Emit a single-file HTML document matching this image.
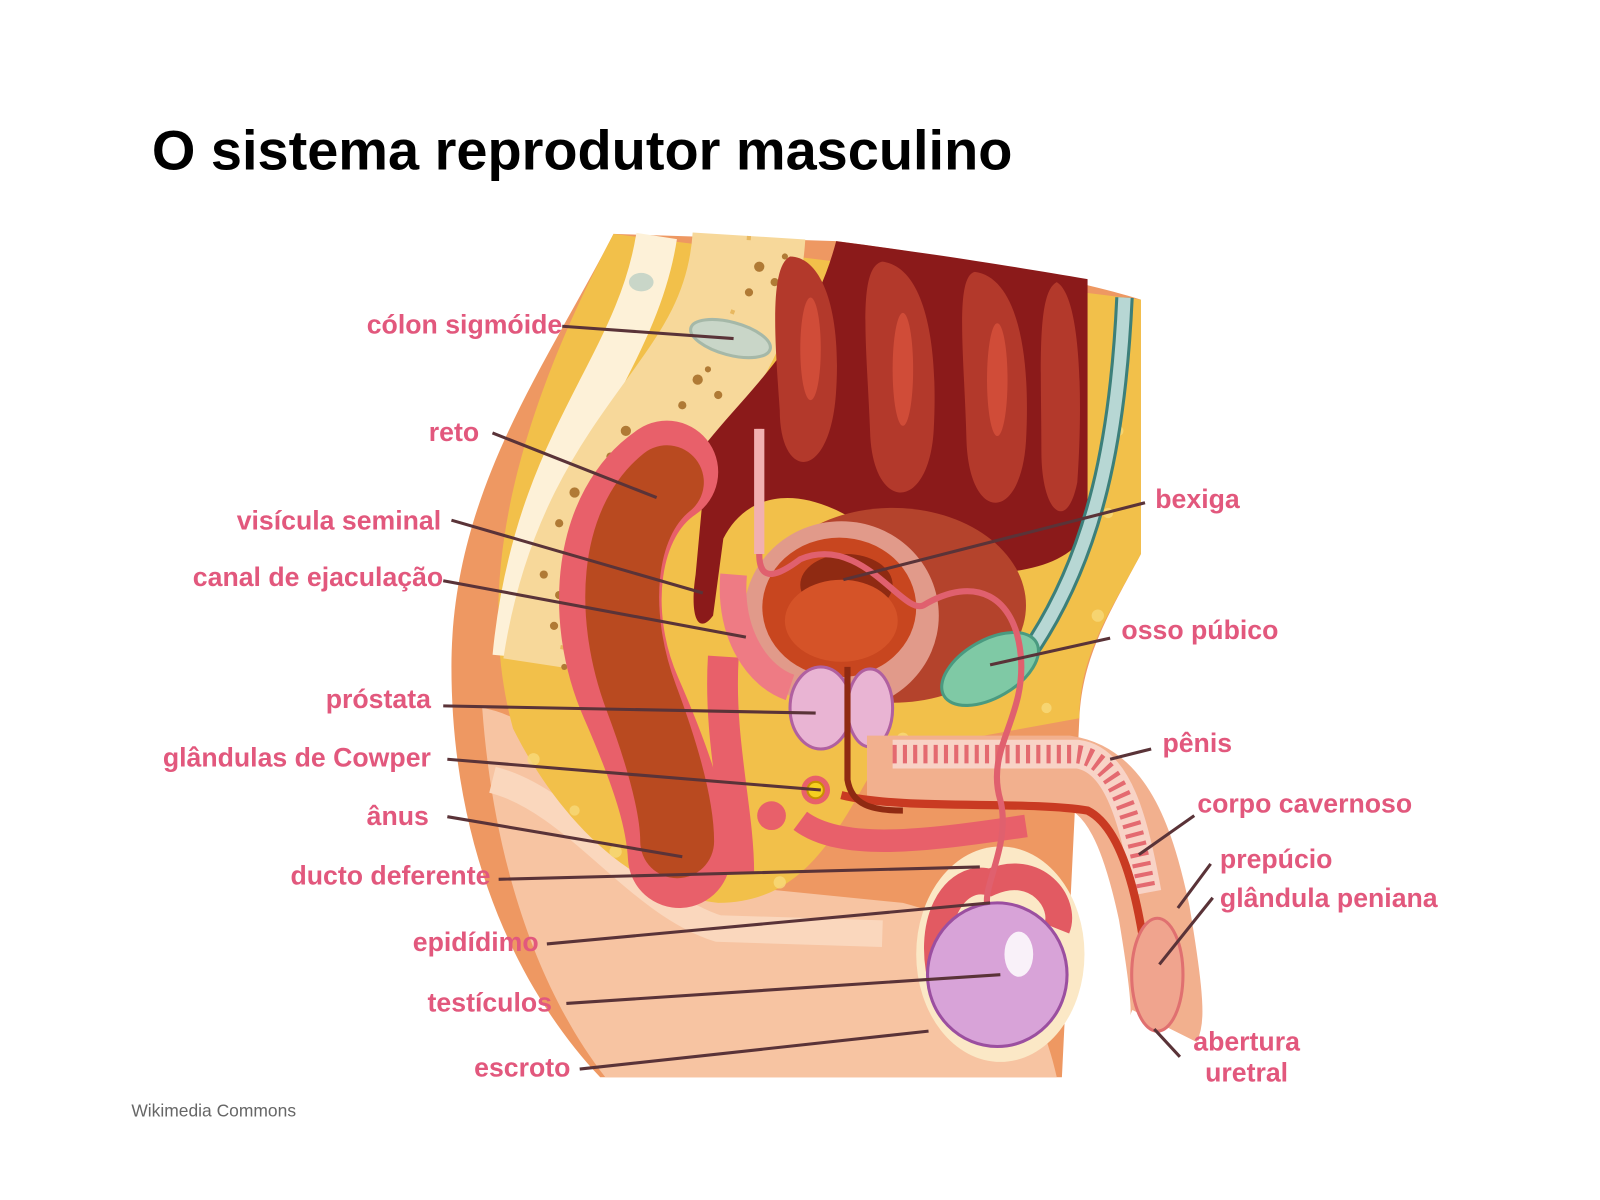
<!DOCTYPE html>
<html><head><meta charset="utf-8"><style>
html,body{margin:0;padding:0;background:#fff}
svg{display:block}
.l{font-family:"Liberation Sans",sans-serif;font-weight:bold;font-size:26px;fill:#e2587d}
.k{stroke:#5a3338;stroke-width:3;fill:none}
</style></head><body>
<svg width="1600" height="1200" viewBox="0 0 1600 1200" xmlns="http://www.w3.org/2000/svg">
<g transform="scale(1.026)">
<text x="148" y="165" font-family="Liberation Sans,sans-serif" font-weight="bold" font-size="54.5" fill="#000">O sistema reprodutor masculino</text>
<text x="128" y="1088" font-family="Liberation Sans,sans-serif" font-size="17" fill="#666">Wikimedia Commons</text>

<path d="M598,228 L815,235 C930,250 1040,270 1112,292 L1112,540 C1080,600 1055,640 1052,700 L1035,1050 L585,1050 C500,960 440,820 440,650 C440,480 530,360 598,228 Z" fill="#ee9862"/>
<path d="M470,690 C540,700 600,800 680,860 L880,880 C960,900 1010,960 1030,1050 L590,1050 C520,960 480,830 470,690 Z" fill="#f7c4a2"/>
<path d="M480,760 C560,780 620,880 700,905 L860,910" stroke="#fad7bd" stroke-width="26" fill="none"/>
<path d="M598,228 L1112,292 L1112,540 C1080,600 1052,640 1052,700 L860,735 C820,800 790,880 700,880 C610,870 540,790 500,710 C470,600 480,450 598,228 Z" fill="#f2c04a"/>
<g fill="#f8d97a" opacity="0.8">
<circle cx="520" cy="740" r="6"/><circle cx="560" cy="790" r="5"/><circle cx="600" cy="830" r="6"/><circle cx="690" cy="850" r="5"/><circle cx="760" cy="860" r="6"/><circle cx="880" cy="720" r="6"/><circle cx="1020" cy="690" r="5"/><circle cx="1080" cy="500" r="5"/><circle cx="1090" cy="420" r="5"/><circle cx="1070" cy="600" r="6"/><circle cx="760" cy="300" r="5"/><circle cx="790" cy="350" r="6"/></g>
<path d="M640,230 C620,360 520,430 500,640" stroke="#fdf1d8" stroke-width="40" fill="none"/>
<path d="M730,230 C720,390 580,420 545,650" stroke="#f7d89a" stroke-width="110" fill="none"/>
<path d="M730,230 C720,390 580,420 545,650" stroke="#e8b860" stroke-width="4" stroke-dasharray="4 70" fill="none"/>
<ellipse cx="712" cy="330" rx="40" ry="16" transform="rotate(15 712 330)" fill="#c9d6c8" stroke="#a5b8a8" stroke-width="3"/>
<ellipse cx="625" cy="275" rx="12" ry="9" fill="#c9d6c8"/>
<g fill="#b07a35">
<circle cx="740" cy="260" r="5"/><circle cx="755" cy="275" r="4"/><circle cx="730" cy="285" r="4"/><circle cx="765" cy="250" r="3"/>
<circle cx="680" cy="370" r="5"/><circle cx="700" cy="385" r="4"/><circle cx="665" cy="395" r="4"/><circle cx="690" cy="360" r="3"/>
<circle cx="610" cy="420" r="5"/><circle cx="625" cy="440" r="4"/><circle cx="595" cy="445" r="4"/>
<circle cx="560" cy="480" r="5"/><circle cx="575" cy="500" r="4"/><circle cx="545" cy="510" r="4"/>
<circle cx="530" cy="560" r="4"/><circle cx="545" cy="580" r="4"/><circle cx="540" cy="610" r="4"/><circle cx="550" cy="650" r="3"/></g>
<path d="M815,235 C930,250 1000,262 1060,272 L1060,520 C1030,560 980,560 900,560 L830,505 C770,470 725,485 705,525 L695,600 C680,620 672,600 678,560 L690,430 C730,380 790,330 815,235 Z" fill="#8b1a1a"/>
<g fill="#b3392b">
<path d="M770,250 C800,250 820,300 815,380 C810,470 760,470 760,400 C755,330 750,260 770,250 Z"/>
<path d="M860,255 C900,260 915,330 910,420 C905,500 850,500 848,420 C845,340 835,260 860,255 Z"/>
<path d="M950,265 C990,270 1005,340 1000,430 C995,510 945,510 942,430 C940,350 930,270 950,265 Z"/>
<path d="M1030,275 C1055,290 1055,400 1050,470 C1040,520 1015,500 1015,440 C1015,360 1010,285 1030,275 Z"/></g>
<g fill="#d04c38"><ellipse cx="790" cy="340" rx="10" ry="50"/><ellipse cx="880" cy="360" rx="10" ry="55"/><ellipse cx="972" cy="370" rx="10" ry="55"/></g>
<path d="M1096,290 C1090,420 1070,540 1000,640" stroke="#3c7f7a" stroke-width="18" fill="none"/>
<path d="M1096,290 C1090,420 1070,540 1000,640" stroke="#b7d7d4" stroke-width="12" fill="none"/>
<ellipse cx="870" cy="590" rx="130" ry="95" fill="#b4432c"/>
<ellipse cx="820" cy="600" rx="95" ry="92" fill="#e19a8a"/>
<ellipse cx="818" cy="592" rx="75" ry="68" fill="#c8461f"/>
<ellipse cx="825" cy="570" rx="45" ry="30" fill="#8f2a12"/>
<ellipse cx="820" cy="605" rx="55" ry="40" fill="#d55328"/>
<ellipse cx="965" cy="652" rx="52" ry="28" transform="rotate(-30 965 652)" fill="#7fc9a5" stroke="#4a9a80" stroke-width="3"/>
<path d="M650,460 C590,500 580,600 615,680 C650,760 660,800 662,835" stroke="#e8606a" stroke-width="100" fill="none" stroke-linecap="round"/>
<path d="M650,470 C600,510 595,600 625,680 C655,760 660,800 660,820" stroke="#b94a20" stroke-width="72" fill="none" stroke-linecap="round"/>
<path d="M705,640 C700,720 720,790 720,850" stroke="#e8606a" stroke-width="30" fill="none"/>
<path d="M715,560 C710,620 740,660 770,670" stroke="#ee7b84" stroke-width="26" fill="none"/>
<ellipse cx="800" cy="690" rx="30" ry="40" fill="#e9b4d3" stroke="#b060a0" stroke-width="3"/>
<ellipse cx="848" cy="690" rx="22" ry="38" fill="#e9b4d3" stroke="#b060a0" stroke-width="3"/>
<path d="M845,752 L1040,752 C1090,760 1110,820 1125,890 C1135,950 1140,990 1135,1000" stroke="#f2b08e" stroke-width="70" fill="none"/>
<path d="M870,735 L1050,735 C1090,740 1105,800 1118,870" stroke="#f8d3c6" stroke-width="28" fill="none"/>
<path d="M870,735 L1050,735 C1090,740 1105,800 1118,870" stroke="#e46a70" stroke-width="18" stroke-dasharray="4 6" fill="none"/>
<path d="M820,775 C880,790 1000,780 1060,790 C1100,810 1115,900 1125,1000" stroke="#c93a22" stroke-width="8" fill="none"/>
<path d="M780,800 C820,830 900,820 1000,805" stroke="#e8606a" stroke-width="22" fill="none"/>
<ellipse cx="1128" cy="950" rx="25" ry="55" fill="#f0a48e" stroke="#e07070" stroke-width="3"/>
<path d="M826,650 L826,760 C830,785 850,790 880,790" stroke="#8f2a12" stroke-width="6" fill="none"/>
<circle cx="795" cy="770" r="14" fill="#e8606a"/>
<circle cx="795" cy="770" r="8" fill="#f5d020" stroke="#c89000" stroke-width="2"/>
<circle cx="752" cy="795" r="14" fill="#e8606a"/>
<ellipse cx="975" cy="930" rx="82" ry="105" fill="#fbe8c6"/>
<path d="M920,965 C900,900 930,850 965,860 C1010,840 1040,880 1030,905" stroke="#e25a62" stroke-width="26" fill="none"/>
<ellipse cx="972" cy="950" rx="68" ry="70" fill="#d8a3d8" stroke="#9b4fa0" stroke-width="3"/>
<ellipse cx="993" cy="930" rx="14" ry="22" fill="#fff" opacity="0.85"/>
<path d="M740,418 L740,540 C740,570 760,560 780,545 C840,520 880,600 900,590 C950,560 990,580 995,640 C1000,700 960,730 975,780 C985,820 960,860 962,880" stroke="#e0606e" stroke-width="6" fill="none"/>
<path d="M740,418 L740,540" stroke="#f2b0b0" stroke-width="10" fill="none"/>
<path class="k" d="M548,318 L715,330 M480,422 L640,485 M440,507 L685,578 M432,566 L727,621 M432,688 L795,695 M436,740 L800,770 M436,796 L665,835 M486,857 L955,845 M533,920 L965,880 M552,978 L975,950 M565,1042 L905,1005 M1116,490 L822,565 M1082,622 L965,648 M1122,730 L1082,740 M1164,795 L1110,833 M1180,842 L1148,885 M1182,875 L1130,940 M1150,1030 L1125,1003"/>
<g class="l" text-anchor="end">
<text x="548" y="325">cólon sigmóide</text>
<text x="467" y="430">reto</text>
<text x="430" y="516">visícula seminal</text>
<text x="432" y="571">canal de ejaculação</text>
<text x="420" y="690">próstata</text>
<text x="420" y="747">glândulas de Cowper</text>
<text x="418" y="804">ânus</text>
<text x="478" y="862">ducto deferente</text>
<text x="525" y="927">epidídimo</text>
<text x="538" y="986">testículos</text>
<text x="556" y="1049">escroto</text>
</g>
<g class="l">
<text x="1126" y="495">bexiga</text>
<text x="1093" y="623">osso púbico</text>
<text x="1133" y="733">pênis</text>
<text x="1167" y="792">corpo cavernoso</text>
<text x="1189" y="846">prepúcio</text>
<text x="1189" y="884">glândula peniana</text>
<text x="1215" y="1024" text-anchor="middle">abertura</text>
<text x="1215" y="1054" text-anchor="middle">uretral</text>
</g>
</g>
</svg>
</body></html>
